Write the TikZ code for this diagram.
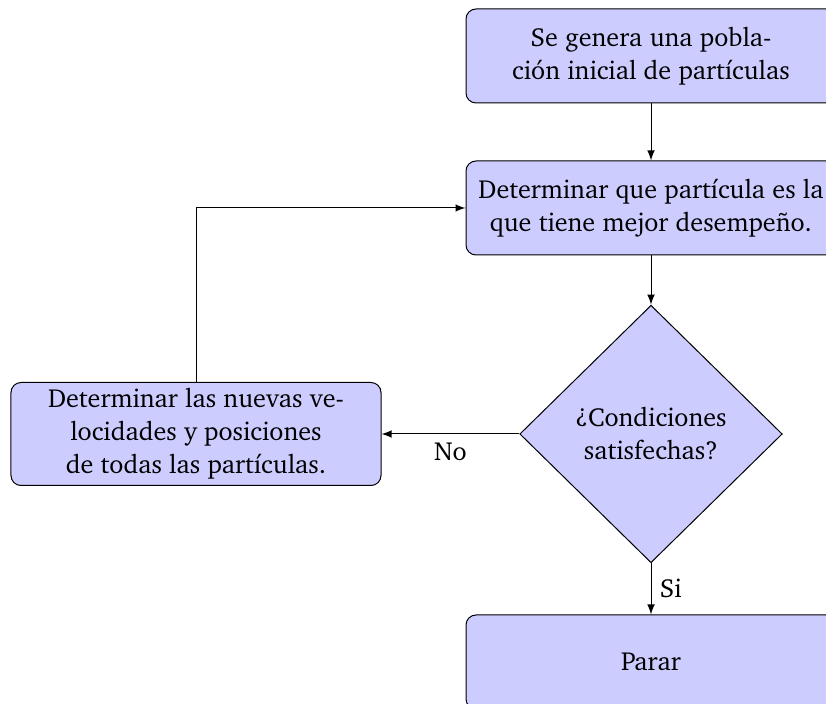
\documentclass[tikz,border=0pt]{standalone}
\usepackage[T1]{fontenc}
\usepackage{charter}
\usetikzlibrary{shapes.geometric}
\tikzset{
  bloque/.style={rectangle,draw,fill=blue!20,rounded corners,align=center,
    minimum width=148pt,minimum height=37.6pt,inner sep=2pt},
  decision/.style={diamond,draw,fill=blue!20,align=center,inner sep=0pt,
    minimum width=105pt,minimum height=103pt},
  linea/.style={draw,-latex},
}
\begin{document}
\begin{tikzpicture}[x=0.4pt,y=-0.4pt,font=\fontsize{10.45pt}{13.2pt}\selectfont]
        \useasboundingbox (0,0) rectangle (826,704);
        % ノードへの命名
        \node[bloque] (inicio) at (651,56) {Se genera una pobla-\\ci\'on inicial de part\'{\i}culas};
        \node[bloque] (evaluar) at (651,208) {Determinar que part\'{\i}cula es la\\que tiene mejor desempe\~no.};
        \node[decision] (decidir) at (651,434) {\textquestiondown Condiciones\\satisfechas?};
        \node[bloque,minimum height=41.2pt] (actualizar) at (196,434) {Determinar las nuevas ve-\\locidades y posiciones\\de todas las part\'{\i}culas.};
        \node[bloque] (parar) at (651,662) {Parar};
        % ノードの参照
        \draw[linea] (inicio) -- (evaluar);
        \draw[linea] (evaluar) -- (decidir);
        \draw[linea] (decidir) -- node[anchor=north,pos=0.5] (no) {No} (actualizar);
        \draw[linea] (decidir) -- node[anchor=west] (si) {Si} (parar);
        \draw[linea] (actualizar) |- (evaluar);
    \end{tikzpicture}
\end{document}
